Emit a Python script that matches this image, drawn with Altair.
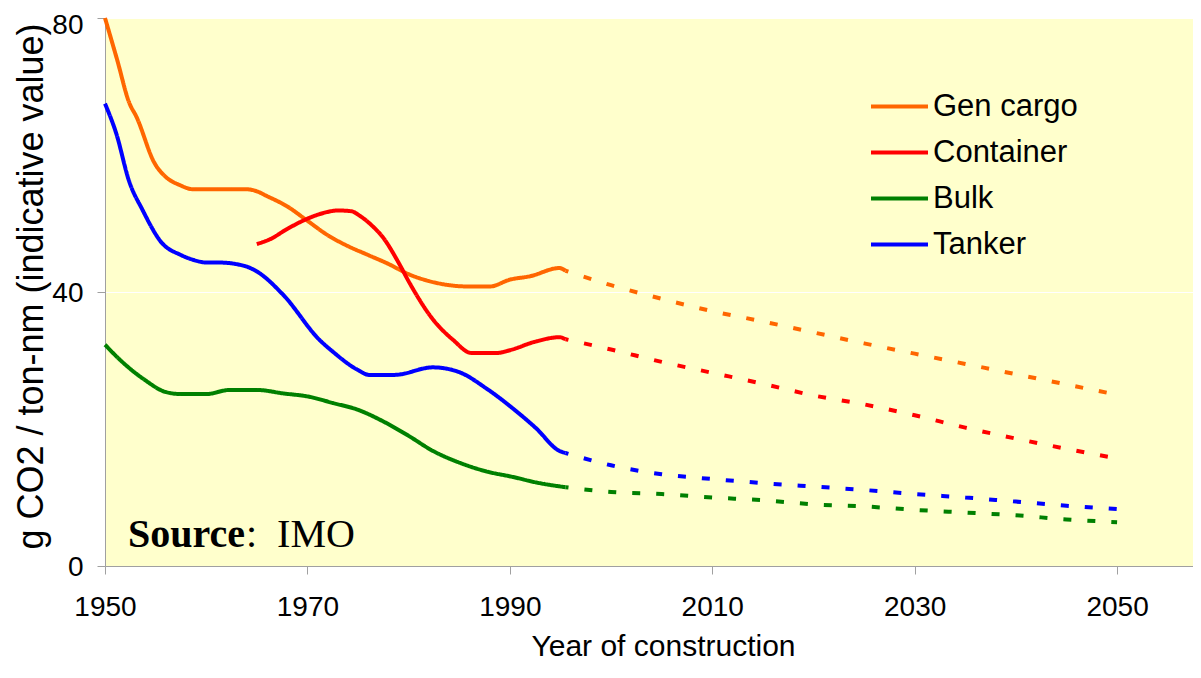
import altair as alt
import pandas as pd

# ---------------- data ----------------
series_names = ["Gen cargo", "Container", "Bulk", "Tanker"]
series_colors = ["#FF6600", "#FF0000", "#008000", "#0000FF"]

gen_hist_years = [1950, 1951.2, 1952.4, 1953.1, 1954.9, 1956, 1957.4, 1958.7, 1960, 1962, 1964, 1965, 1966,
                  1968, 1970, 1972, 1974, 1976, 1978, 1980, 1982, 1984, 1986, 1988, 1990, 1992, 1994.9, 1995.5]
gen_hist_vals = [80.0, 73.9, 67.6, 65.6, 58.8, 56.8, 55.6, 55.0, 55.0, 55.0, 55.0, 54.7, 54.0,
                 52.5, 50.4, 48.3, 46.7, 45.4, 44.1, 42.6, 41.6, 41.0, 40.8, 40.8, 41.8, 42.3, 43.5, 43.1]

con_hist_years = [1965, 1966.3, 1968, 1970, 1971.5, 1973, 1974.3, 1975.3, 1976.3, 1977.5, 1979, 1980.1,
                  1982.4, 1984.4, 1986.2, 1988.7, 1990, 1992.4, 1994.9, 1995.5]
con_hist_vals = [47.0, 47.7, 49.2, 50.7, 51.5, 51.9, 51.8, 51.0, 49.8, 47.9, 44.3, 41.3,
                 36.0, 33.0, 31.1, 31.1, 31.5, 32.7, 33.4, 33.1]

blk_hist_years = [1950, 1951.7, 1953.9, 1956, 1957.5, 1960, 1962.3, 1965, 1967.6, 1970.2, 1972.5, 1975,
                  1977.5, 1980, 1982.4, 1985, 1987.7, 1990.3, 1992.6, 1995.5]
blk_hist_vals = [32.3, 29.8, 27.2, 25.4, 25.1, 25.1, 25.7, 25.7, 25.2, 24.7, 23.8, 22.8,
                 21.1, 19.0, 16.8, 15.1, 13.8, 13.0, 12.2, 11.5]

tnk_hist_years = [1950, 1951.1, 1952.4, 1953.7, 1955.6, 1957.5, 1958.7, 1960, 1961.3, 1963.8, 1965,
                  1967.6, 1971.2, 1972.5, 1975, 1976.1, 1978.6, 1982.4, 1985, 1987.7, 1990.3, 1992.6,
                  1994.9, 1995.5]
tnk_hist_vals = [67.5, 63.2, 56.1, 52.0, 47.2, 45.4, 44.7, 44.3, 44.3, 43.8, 43.0,
                 39.6, 33.0, 31.3, 28.6, 27.9, 27.9, 29.0, 28.3, 25.9, 23.0, 20.1,
                 16.8, 16.5]

proj_years = [1995.5, 2000, 2005, 2010, 2015, 2020, 2025, 2030, 2035, 2040, 2045, 2050]
gen_proj_vals = [43.1, 41.0, 39.0, 37.2, 35.7, 34.1, 32.5, 31.0, 29.5, 28.0, 26.5, 25.0]
con_proj_vals = [33.1, 31.6, 29.8, 28.2, 26.6, 24.9, 23.6, 22.0, 20.2, 18.6, 17.1, 15.7]
blk_proj_vals = [11.5, 10.8, 10.5, 10.0, 9.6, 9.0, 8.7, 8.2, 7.8, 7.4, 6.8, 6.4]
tnk_proj_vals = [16.5, 14.7, 13.4, 12.7, 12.1, 11.6, 11.1, 10.5, 10.0, 9.4, 8.8, 8.3]

phases = ["Historical", "Projection"]
x_tick_values = [1950, 1970, 1990, 2010, 2030, 2050]
y_tick_values = [0, 40, 80]
x_title = "Year of construction"
y_title = "g CO2 / ton-nm (indicative value)"
source_bold = ["Source"]
source_rest = [": \u00a0IMO"]

# ---------------- build table ----------------
hist = {
    "Gen cargo": (gen_hist_years, gen_hist_vals),
    "Container": (con_hist_years, con_hist_vals),
    "Bulk": (blk_hist_years, blk_hist_vals),
    "Tanker": (tnk_hist_years, tnk_hist_vals),
}
proj = {
    "Gen cargo": gen_proj_vals,
    "Container": con_proj_vals,
    "Bulk": blk_proj_vals,
    "Tanker": tnk_proj_vals,
}
rows = []
for name in series_names:
    hy, hv = hist[name]
    for yr, v in zip(hy, hv):
        rows.append({"type": name, "year": yr, "value": v, "phase": phases[0]})
    for yr, v in zip(proj_years, proj[name]):
        rows.append({"type": name, "year": yr, "value": v, "phase": phases[1]})
df = pd.DataFrame(rows)
df["key"] = df["type"] + "|" + df["phase"]

AX = "#A0A0A0"
NARROW = "Liberation Sans Narrow, Arial Narrow, Liberation Sans"

lines = alt.Chart(df).mark_line(
    strokeWidth=4, interpolate="monotone", strokeCap="butt", strokeDashOffset=5
).encode(
    x=alt.X("year:Q",
            scale=alt.Scale(domain=[1950, 2057.5], nice=False, zero=False),
            axis=alt.Axis(values=x_tick_values, format="d", title=x_title, grid=False,
                          domainColor=AX, tickColor=AX, tickSize=8, labelFlush=False,
                          labelFont=NARROW, labelFontSize=28, labelColor="black", labelPadding=19,
                          titleFont="Liberation Sans", titleFontSize=30, titleFontWeight="normal",
                          titleColor="black", titleX=558, titleY=89, titleBaseline="alphabetic",
                          titleAlign="center")),
    y=alt.Y("value:Q",
            scale=alt.Scale(domain=[0, 80], nice=False),
            axis=alt.Axis(values=y_tick_values, title=y_title, grid=True, gridColor="#FFFFFF",
                          gridWidth=1, domainColor=AX, tickColor=AX, tickSize=8, labelFlush=False,
                          labelFont=NARROW, labelFontSize=28, labelColor="black",
                          labelPadding=14,
                          labelOffset={"condition": {"test": "datum.value == 80", "value": 7},
                                       "value": 1},
                          titleFont="Liberation Sans", titleFontSize=36, titleFontWeight="normal",
                          titleColor="black", titleX=-63, titleY=268, titleAngle=270,
                          titleBaseline="alphabetic", titleAlign="center")),
    color=alt.Color("type:N",
                    scale=alt.Scale(domain=series_names, range=series_colors),
                    legend=alt.Legend(title=None, orient="none", legendX=764, legendY=58,
                                      symbolType="stroke", symbolSize=3249, symbolStrokeWidth=4,
                                      labelFont="Liberation Sans", labelFontSize=31,
                                      labelColor="black", labelOffset=3, rowPadding=-15,
                                      padding=0, labelLimit=400, symbolOffset=0)),
    strokeDash=alt.StrokeDash("phase:N",
                              scale=alt.Scale(domain=phases, range=[[1, 0], [8, 16]]),
                              legend=None),
    detail="key:N",
    order="year:Q",
)

src1 = alt.Chart(pd.DataFrame({"t": source_bold})).mark_text(
    font="Liberation Serif", fontSize=40, fontWeight="bold", align="left",
    baseline="alphabetic", color="black"
).encode(text="t:N", x=alt.value(23), y=alt.value(529))

src2 = alt.Chart(pd.DataFrame({"t": source_rest})).mark_text(
    font="Liberation Serif", fontSize=40, fontWeight="normal", align="left",
    baseline="alphabetic", color="black"
).encode(text="t:N", x=alt.value(141), y=alt.value(529))

chart = alt.layer(lines, src1, src2).properties(
    width=1088, height=548,
    padding={"left": 97, "top": 10, "right": 0, "bottom": 97},
    autosize=alt.AutoSizeParams(type="none"),
    background="white",
).configure_view(fill="#FFFFCC", stroke=None)

chart.save("out.html", embed_options={"renderer": "svg", "actions": False})
